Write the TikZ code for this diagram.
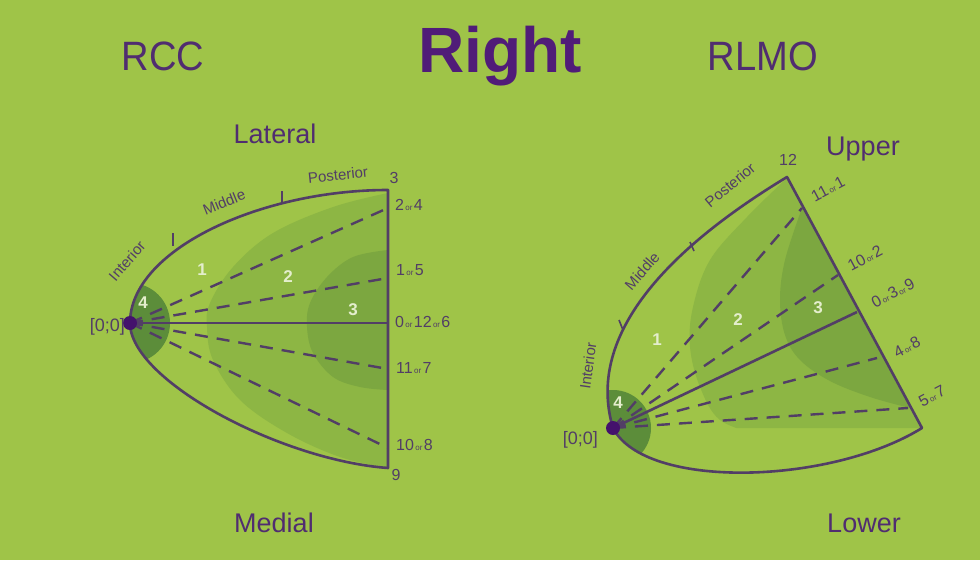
\documentclass[tikz,border=0pt]{standalone}
\usepackage{fontspec}
\setmainfont{Liberation Sans}
\newfontfamily\condfont[FakeStretch=0.93]{Liberation Sans}
\definecolor{bg}{RGB}{159,196,72}
\definecolor{rtwo}{RGB}{141,182,68}
\definecolor{rthree}{RGB}{124,167,64}
\definecolor{rfour}{RGB}{92,141,58}
\definecolor{ink}{RGB}{82,62,102}
\definecolor{txt}{RGB}{80,45,112}
\definecolor{ttl}{RGB}{80,28,120}
\definecolor{dotc}{RGB}{68,18,108}
\definecolor{numc}{RGB}{228,238,205}
\newcommand\myor{{\fontsize{8}{8}\selectfont\,or\,}}
\def\LeftOutline{(388,190) .. controls (260,190) and (130,250) .. (130,323) .. controls (130,380) and (280,460) .. (388,468) -- cycle}
\def\RightOutline{(787,177) .. controls (650,260) and (588,345) .. (613,428) .. controls (645,490) and (830,485) .. (922,428) -- cycle}
\def\RightUpper{(787,177) .. controls (650,260) and (588,345) .. (613,428) -- (922,428) -- cycle}
\tikzset{
  outline/.style={draw=ink, line width=2.6pt, line join=round},
  dashline/.style={draw=ink, line width=2.4pt, dash pattern=on 13pt off 9pt},
  solidline/.style={draw=ink, line width=2.6pt},
  tickline/.style={draw=ink, line width=1.6pt},
  lbl/.style={text=ink, font=\fontsize{16}{16}\selectfont, inner sep=0pt},
  seg/.style={text=ink, font=\fontsize{15}{15}\selectfont, inner sep=0pt},
  side/.style={text=txt, font=\fontsize{27}{27}\selectfont, inner sep=0pt, anchor=base},
  view/.style={text=txt, font=\condfont\fontsize{41}{41}\selectfont, inner sep=0pt, anchor=base},
  regnum/.style={text=numc, font=\bfseries\fontsize{17}{17}\selectfont, inner sep=0pt},
  origin/.style={circle, fill=dotc, minimum size=14pt, inner sep=0pt},
}
\begin{document}
\begin{tikzpicture}[x=1pt,y=-1pt]
\useasboundingbox (0,0) rectangle (980,560);
\fill[bg] (0,0) rectangle (980,560);

% titles
\node[view] (rcc) at (163,70) {RCC};
\node[text=ttl, font=\bfseries\fontsize{64}{64}\selectfont, inner sep=0pt, anchor=base] (title) at (500,72) {Right};
\node[view] (rlmo) at (763,70) {RLMO};
\node[side] (lat) at (275,143) {Lateral};
\node[side] (med) at (274,532) {Medial};
\node[side] (upp) at (863,155) {Upper};
\node[side] (low) at (864,532) {Lower};

% ---------- left diagram (RCC) ----------
\begin{scope}
  \path[clip] \LeftOutline;
  \fill[rtwo] plot[smooth, tension=0.6] coordinates {(388,193) (333,207) (273,233) (233,267) (210,303) (207,327) (213,360) (240,400) (287,433) (340,457) (388,468)} -- (420,470) -- (420,188) -- cycle;
  \fill[rthree] plot[smooth, tension=0.6] coordinates {(388,250) (353,257) (327,277) (310,303) (307,327) (313,353) (333,377) (360,387) (388,390)} -- (420,390) -- (420,250) -- cycle;
  \fill[rfour] (130,323) circle[radius=40];
\end{scope}

\coordinate (LA) at (130,323);
\coordinate (L24) at (388,208);
\coordinate (L15) at (388,278);
\coordinate (L0) at (388,323);
\coordinate (L117) at (388,369);
\coordinate (L108) at (388,448);

\draw[dashline] (LA) -- (L24);
\draw[dashline] (LA) -- (L15);
\draw[solidline] (LA) -- (L0);
\draw[dashline] (LA) -- (L117);
\draw[dashline] (LA) -- (L108);

\draw[outline] \LeftOutline;
\draw[tickline] (173,233) -- (173,246);
\draw[tickline] (282,191) -- (282,203);

\node[origin] (lo) at (LA) {};
\node[lbl, font=\fontsize{18}{18}\selectfont, anchor=east] (lz) at (125,327) {[0;0]};

\node[seg, rotate=49] (lint) at (127,261) {Interior};
\node[seg, rotate=22] (lmid) at (224,202) {Middle};
\node[seg, rotate=6] (lpos) at (338,175) {Posterior};

\node[lbl] (l3) at (394,178) {3};
\node[lbl, anchor=west] (l24) at (395,205) {2\myor4};
\node[lbl, anchor=west] (l15) at (396,270) {1\myor5};
\node[lbl, anchor=west] (l0) at (395,322) {0\myor12\myor6};
\node[lbl, anchor=west] (l117) at (396,368) {11\myor7};
\node[lbl, anchor=west] (l108) at (396,445) {10\myor8};
\node[lbl] (l9) at (396,475) {9};

\node[regnum] (n1) at (202,270) {1};
\node[regnum] (n2) at (288,277) {2};
\node[regnum] (n3) at (353,310) {3};
\node[regnum] (n4) at (143,303) {4};

% ---------- right diagram (RLMO) ----------
\begin{scope}
  \path[clip] \RightUpper;
  \fill[rtwo] plot[smooth, tension=0.6] coordinates {(787,178) (747,217) (710,260) (693,307) (690,347) (700,387) (720,420) (760,435)} -- (960,440) -- (900,150) -- cycle;
  \fill[rthree] plot[smooth, tension=0.6] coordinates {(802,208) (785,260) (780,300) (785,335) (800,360) (830,381) (870,397) (910,408)} -- (960,420) -- (900,180) -- cycle;
\end{scope}
\begin{scope}
  \path[clip] \RightOutline;
  \fill[rfour] (613,428) circle[radius=38];
\end{scope}

\coordinate (RA) at (613,428);
\coordinate (R111) at (802,208);
\coordinate (R102) at (838,275);
\coordinate (R039) at (857,312);
\coordinate (R48) at (877,358);
\coordinate (R57) at (908,408);

\draw[dashline] (RA) -- (R111);
\draw[dashline] (RA) -- (R102);
\draw[solidline] (RA) -- (R039);
\draw[dashline] (RA) -- (R48);
\draw[dashline] (RA) -- (R57);

\draw[outline] \RightOutline;
\draw[tickline] (619,320) -- (623,330);
\draw[tickline] (690,242) -- (694,251);

\node[origin] (ro) at (RA) {};
\node[lbl, font=\fontsize{18}{18}\selectfont, anchor=east] (rz) at (598,440) {[0;0]};

\node[seg, rotate=82] (rint) at (588,366) {Interior};
\node[seg, rotate=49] (rmid) at (642,271) {Middle};
\node[seg, rotate=40] (rpos) at (730,185) {Posterior};

\node[lbl] (r12) at (788,160) {12};
\node[lbl, rotate=28] (r111) at (828,189) {11\myor1};
\node[lbl, rotate=28] (r102) at (865,258) {10\myor2};
\node[lbl, rotate=28] (r039) at (893,293) {0\myor3\myor9};
\node[lbl, rotate=28] (r48) at (907,347) {4\myor8};
\node[lbl, rotate=28] (r57) at (932,396) {5\myor7};

\node[regnum] (m1) at (657,340) {1};
\node[regnum] (m2) at (738,320) {2};
\node[regnum] (m3) at (818,308) {3};
\node[regnum] (m4) at (618,403) {4};
\end{tikzpicture}
\end{document}
